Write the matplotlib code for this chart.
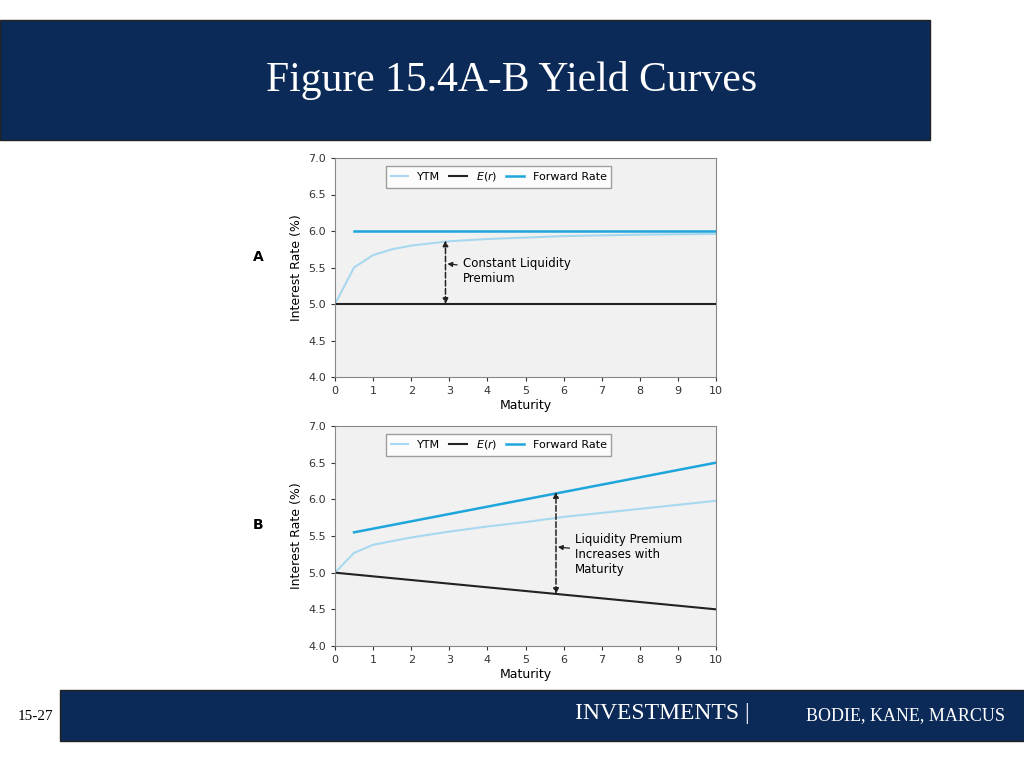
import matplotlib
matplotlib.use('Agg')
import matplotlib.pyplot as plt
from matplotlib.patches import Rectangle

NAVY = '#0b2a58'
YTM_C = '#a8d8ef'
FWD_C = '#1ea6dc'

# panel A
a_ytm_x = [0, 0.5, 1, 1.5, 2, 3, 4, 5, 6, 8, 10]
a_ytm_y = [5.0, 5.5, 5.67, 5.75, 5.8, 5.86, 5.89, 5.91, 5.93, 5.95, 5.96]
a_fwd_x = [0.5, 10]
a_fwd_y = [6.0, 6.0]
a_er_x = [0, 10]
a_er_y = [5.0, 5.0]

# panel B
b_ytm_x = [0, 0.5, 1, 2, 3, 4, 5, 6, 8, 10]
b_ytm_y = [5.0, 5.27, 5.38, 5.48, 5.56, 5.63, 5.69, 5.76, 5.87, 5.98]
b_fwd_x = [0.5, 10]
b_fwd_y = [5.55, 6.5]
b_er_x = [0, 10]
b_er_y = [5.0, 4.5]

W, H = 1024, 768
fig = plt.figure(figsize=(W / 100, H / 100), dpi=100)

# banners
fig.patches.append(Rectangle((0, 1 - 140 / H), 930 / W, 120 / H, transform=fig.transFigure,
                             facecolor=NAVY, edgecolor='#222222', lw=1))
fig.text(512 / W, 1 - 80 / H, 'Figure 15.4A-B Yield Curves', color='white', fontsize=30,
         family='Liberation Serif', ha='center', va='center')
fig.patches.append(Rectangle((60 / W, 1 - 741 / H), 964 / W, 51 / H, transform=fig.transFigure,
                             facecolor=NAVY, edgecolor='#222222', lw=1))
fig.text(35 / W, 1 - 716 / H, '15-27', fontsize=11, family='Liberation Serif', ha='center', va='center')
fig.text(575 / W, 1 - 714 / H, 'INVESTMENTS | ', color='white', fontsize=17,
         family='Liberation Serif', ha='left', va='center')
fig.text(1005 / W, 1 - 716 / H, 'BODIE, KANE, MARCUS', color='white', fontsize=13,
         family='Liberation Serif', ha='right', va='center')


def panel(top, bottom, label, ytm, fwd, er, arrow_x, arr_lo, arr_hi, txt, txt_xy):
    ax = fig.add_axes([335 / W, 1 - bottom / H, 381 / W, (bottom - top) / H])
    ax.set_facecolor('#f1f1f1')
    ax.plot(*ytm, color=YTM_C, lw=1.5, label='YTM')
    ax.plot(*er, color='#222222', lw=1.5, label='$E(r)$')
    ax.plot(*fwd, color=FWD_C, lw=1.8, label='Forward Rate')
    ax.set_xlim(0, 10)
    ax.set_ylim(4.0, 7.0)
    ax.set_xticks(range(11))
    ax.set_yticks([4.0, 4.5, 5.0, 5.5, 6.0, 6.5, 7.0])
    ax.set_yticklabels(['4.0', '4.5', '5.0', '5.5', '6.0', '6.5', '7.0'])
    ax.tick_params(labelsize=8, colors='#333333', length=3)
    ax.set_xlabel('Maturity', fontsize=9, labelpad=2)
    ax.set_ylabel('Interest Rate (%)', fontsize=9)
    for s in ax.spines.values():
        s.set_color('#888888')
    ax.legend(loc='upper center', ncol=3, fontsize=8, frameon=True, fancybox=False,
              edgecolor='#888888', handlelength=1.6, columnspacing=0.8,
              bbox_to_anchor=(0.43, 0.99))
    ax.annotate('', xy=(arrow_x, arr_hi), xytext=(arrow_x, arr_lo),
                arrowprops=dict(arrowstyle='<|-|>', color='#222222', ls='--', lw=1.1,
                                shrinkA=0, shrinkB=0, mutation_scale=8))
    ax.annotate(txt, xy=(arrow_x + 0.05, txt_xy[1] + 0.1), xytext=txt_xy, fontsize=8.5,
                va='center', arrowprops=dict(arrowstyle='-|>', color='#222222', lw=0.9,
                                             mutation_scale=7, shrinkA=2, shrinkB=0))
    fig.text(258 / W, 1 - (top + (bottom - top) * 0.45) / H, label, fontsize=10,
             fontweight='bold', ha='center', va='center')
    return ax


panel(158, 377, 'A', (a_ytm_x, a_ytm_y), (a_fwd_x, a_fwd_y), (a_er_x, a_er_y),
      2.9, 5.0, 5.87, 'Constant Liquidity\nPremium', (3.35, 5.45))
panel(426, 646, 'B', (b_ytm_x, b_ytm_y), (b_fwd_x, b_fwd_y), (b_er_x, b_er_y),
      5.8, 4.71, 6.1, 'Liquidity Premium\nIncreases with\nMaturity', (6.3, 5.25))

fig.savefig('out.png', dpi=100)
